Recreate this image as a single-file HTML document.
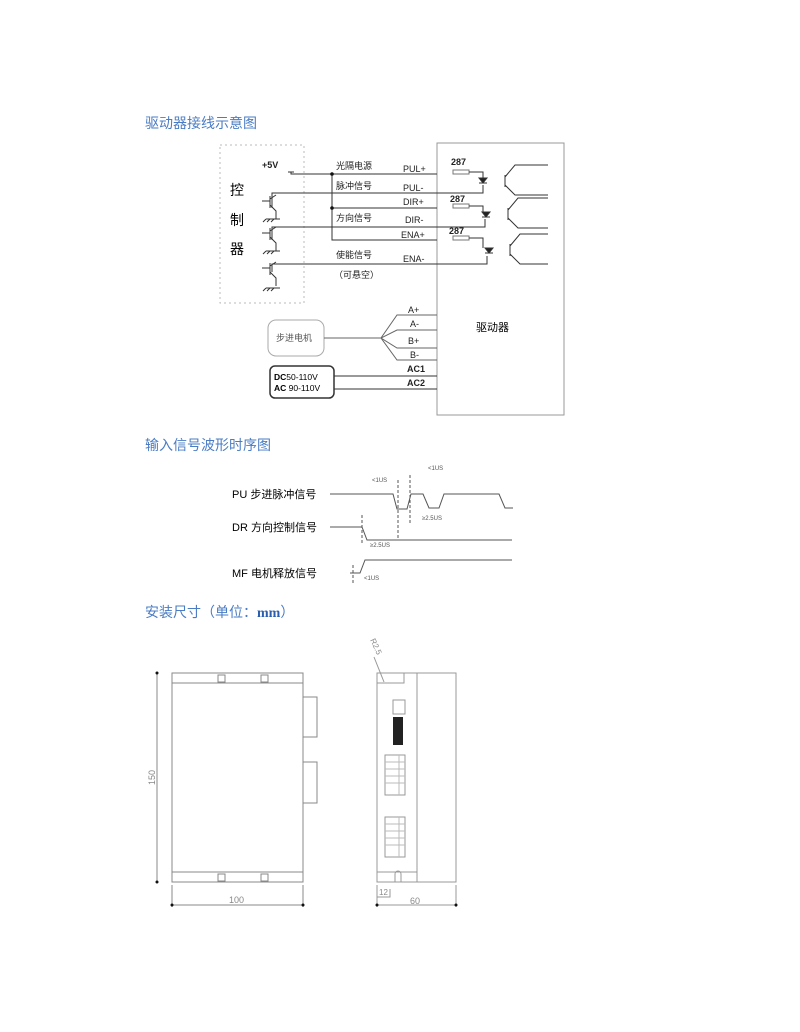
<!DOCTYPE html>
<html><head><meta charset="utf-8"><style>
html,body{margin:0;padding:0;background:#fff;}
svg{display:block;}
text{font-family:"Liberation Sans","Noto Sans CJK SC",sans-serif;}
.t{fill:#4a7cc4;font-size:14px;}
.s{font-size:9px;fill:#222;}
.b{font-size:9px;fill:#222;font-weight:bold;}
</style></head><body>
<svg width="800" height="1032" viewBox="0 0 800 1032" xmlns="http://www.w3.org/2000/svg">
<g stroke="#333" fill="none" stroke-width="1">
<rect x="220" y="145" width="84" height="158" stroke="#bbb" stroke-dasharray="2,3"/>
<rect x="437" y="143" width="127" height="272" stroke="#999"/>
<path d="M288 172h6M291 172v2H437M332 174v66H437M272 208v-15H437M332 208H437M272 240v-13H437M272 272v-8H437"/>
<path d="M453 174h16v-4h-16zM453 208h16v-4h-16zM453 240h16v-4h-16z" stroke="#777"/>
<path d="M469 172h14v6M469 206h14v6M469 238h14v10M437 193h46v-8M437 227h48v-8M437 264h50v-8"/>
<path d="M505 175v12M505 177l10-12h33M505 185l10 10h33M508 208v12M508 210l10-12h30M508 218l10 10h30M510 244v12M510 246l10-12h28M510 254l10 10h28"/>
<!-- LEDs -->
<path d="M479 178h8l-4 5zM479 183h8M482 212h8l-4 5zM482 217h8M485 248h8l-4 5zM485 253h8" fill="#222"/>
<path d="M262 201h8M270 196v12M270 199l6-4M270 205l6 6v8M266 219h14M266 219l-3 3M270 219l-3 3M274 219l-3 3"/>
<path d="M262 233h8M270 228v12M270 231l6-4M270 237l6 6v8M266 251h14M266 251l-3 3M270 251l-3 3M274 251l-3 3"/>
<path d="M262 268h8M270 263v12M270 266l6-4M270 272l6 6v8M266 288h14M266 288l-3 3M270 288l-3 3M274 288l-3 3"/>
<rect x="268" y="320" width="56" height="36" rx="8" stroke="#aaa"/>
<path d="M324 338h57M381 338l16-23h40M381 338l16-8h40M381 338l16 10h40M381 338l16 22h40" stroke="#666"/>
<rect x="270" y="366" width="64" height="32" rx="5" stroke-width="1.5"/>
<path d="M334 376h103M334 389h103"/>
<path d="M330 494h63l4 15h10l4-15h12l6 14h10l5-14h55l6 14h8" stroke="#555"/>
<path d="M330 527h32l5 13h145M350 573h10l5-13h147" stroke="#555"/>
<path d="M398 480v60M410 475v48M362 515v30M353 565v18" stroke="#555" stroke-dasharray="3,2"/>
<rect x="172" y="673" width="131" height="209" stroke="#888"/>
<path d="M172 683h131M172 872h131" stroke="#888"/>
<rect x="218" y="675" width="7" height="7" stroke="#888"/><rect x="261" y="675" width="7" height="7" stroke="#888"/>
<rect x="218" y="874" width="7" height="7" stroke="#888"/><rect x="261" y="874" width="7" height="7" stroke="#888"/>
<path d="M303 697h14v40h-14M303 762h14v41h-14" stroke="#888"/>
<path d="M157 673v209M172 885v22M303 885v22M172 905h131" stroke="#888"/>
<rect x="377" y="673" width="79" height="209" stroke="#999"/>
<path d="M417 673v209M377 683h27v-10M377 872h40M395 882v-8a3 3 0 0 1 6 0v8M377 885v22M456 885v22M377 905h79M377 897h13v-8M384 682l-10-25" stroke="#999"/>
<rect x="385" y="755" width="20" height="40" stroke="#999"/><rect x="385" y="817" width="20" height="40" stroke="#999"/>
<path d="M399 755v40M399 817v40M385 762h20M385 769h20M385 776h20M385 783h20M385 824h20M385 831h20M385 838h20M385 845h20" stroke="#bbb"/>
<rect x="393" y="700" width="12" height="14" stroke="#999"/>
</g>
<rect x="393" y="717" width="10" height="28" fill="#222"/>
<g fill="#111"><circle cx="332" cy="174" r="1.8"/><circle cx="332" cy="208" r="1.8"/><circle cx="157" cy="673" r="1.5"/><circle cx="157" cy="882" r="1.5"/><circle cx="172" cy="905" r="1.5"/><circle cx="303" cy="905" r="1.5"/><circle cx="377" cy="905" r="1.5"/><circle cx="456" cy="905" r="1.5"/></g>
<text x="145" y="128" class="t">驱动器接线示意图</text>
<text x="145" y="450" class="t">输入信号波形时序图</text>
<text x="145" y="617" class="t">安装尺寸（单位：<tspan font-weight="bold" font-family="Liberation Serif" fill="#2a5fb0">mm</tspan>）</text>
<text x="262" y="168" class="b">+5V</text>
<text x="230" y="195" font-size="14">控</text><text x="230" y="225" font-size="14">制</text><text x="230" y="254" font-size="14">器</text>
<text x="336" y="169" class="s">光隔电源</text><text x="336" y="189" class="s">脉冲信号</text><text x="336" y="221" class="s">方向信号</text><text x="336" y="258" class="s">使能信号</text><text x="334" y="278" class="s">（可悬空）</text>
<text x="403" y="172" class="s">PUL+</text><text x="403" y="191" class="s">PUL-</text><text x="403" y="205" class="s">DIR+</text><text x="405" y="223" class="s">DIR-</text><text x="401" y="238" class="s">ENA+</text><text x="403" y="262" class="s">ENA-</text>
<text x="451" y="165" class="b">287</text><text x="450" y="202" class="b">287</text><text x="449" y="234" class="b">287</text>
<text x="408" y="313" class="s">A+</text><text x="410" y="327" class="s">A-</text><text x="408" y="344" class="s">B+</text><text x="410" y="358" class="s">B-</text>
<text x="407" y="372" class="b">AC1</text><text x="407" y="386" class="b">AC2</text>
<text x="276" y="341" font-size="9" fill="#555">步进电机</text>
<text x="476" y="331" font-size="11">驱动器</text>
<text x="274" y="380" font-size="8.5" font-family="Liberation Mono"><tspan font-weight="bold">DC</tspan>50-110V</text>
<text x="274" y="391" font-size="8.5" font-family="Liberation Mono"><tspan font-weight="bold">AC</tspan> 90-110V</text>
<text x="232" y="498" font-size="11">PU 步进脉冲信号</text>
<text x="232" y="531" font-size="11">DR 方向控制信号</text>
<text x="232" y="577" font-size="11">MF 电机释放信号</text>
<text x="372" y="482" font-size="6" fill="#555">&lt;1US</text><text x="428" y="470" font-size="6" fill="#555">&lt;1US</text>
<text x="422" y="520" font-size="6" fill="#555">≥2.5US</text><text x="370" y="547" font-size="6" fill="#555">≥2.5US</text><text x="364" y="580" font-size="6" fill="#555">&lt;1US</text>
<text x="229" y="903" font-size="9" fill="#888">100</text><text x="410" y="904" font-size="9" fill="#888">60</text><text x="379" y="895" font-size="8" fill="#888">12</text>
<text x="155" y="785" font-size="9" fill="#888" transform="rotate(-90 155 785)">150</text>
<text x="370" y="640" font-size="8" fill="#888" transform="rotate(65 370 640)">R2.5</text>
</svg>
</body></html>
